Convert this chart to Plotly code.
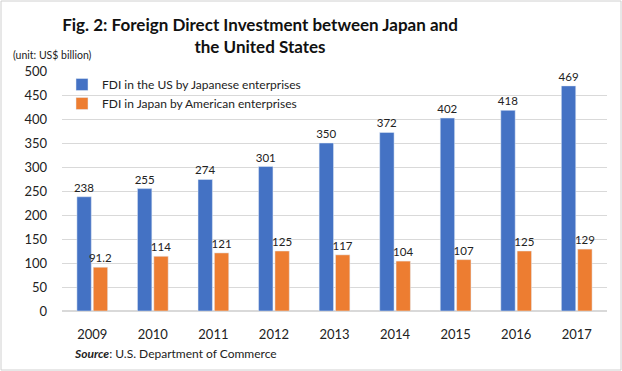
import plotly.graph_objects as go

years = ["2009", "2010", "2011", "2012", "2013", "2014", "2015", "2016", "2017"]
jp_in_us = [238, 255, 274, 301, 350, 372, 402, 418, 469]
us_in_jp = [91.2, 114, 121, 125, 117, 104, 107, 125, 129]
jp_labels = ["238", "255", "274", "301", "350", "372", "402", "418", "469"]
us_labels = ["91.2", "114", "121", "125", "117", "104", "107", "125", "129"]

FONT = "Lato, Open Sans, sans-serif"
PW, PH = 545, 240  # plot area in px

fig = go.Figure()
fig.add_trace(go.Bar(x=years, y=jp_in_us, name="FDI in the US by Japanese enterprises",
                     marker_color="#4472C4", text=jp_labels, textposition="outside",
                     constraintext="none",
                     textfont=dict(size=11.5, color="#222"), cliponaxis=False))
fig.add_trace(go.Bar(x=years, y=us_in_jp, name="FDI in Japan by American enterprises",
                     marker_color="#ED7D31", text=us_labels, textposition="outside",
                     constraintext="none",
                     textfont=dict(size=11.5, color="#222"), cliponaxis=False))

fig.update_layout(
    width=622, height=371,
    margin=dict(l=62, r=15, t=71, b=60, autoexpand=False),
    paper_bgcolor="white", plot_bgcolor="white",
    font=dict(family=FONT, color="#222"),
    barmode="group", bargap=0.46, bargroupgap=0.12,
    title=dict(text="<b>Fig. 2: Foreign Direct Investment between Japan and<br>the United States</b>",
               x=260/622, xanchor="center", y=1-31/371, yanchor="top",
               font=dict(size=17, family=FONT, color="#111")),
    legend=dict(x=0/PW, y=1+1/PH, xanchor="left", yanchor="top", bgcolor="rgba(0,0,0,0)",
                font=dict(size=12), itemwidth=30, tracegroupgap=0),
    xaxis=dict(showline=False, ticks="", tickfont=dict(size=13), automargin=False,
               ticklabelstandoff=14),
    yaxis=dict(range=[0, 500], dtick=50, showgrid=True, gridcolor="#D9D9D9",
               zeroline=True, zerolinecolor="#D9D9D9", tickfont=dict(size=13), ticks="",
               automargin=False, ticklabelstandoff=14),
    shapes=[dict(type="rect", xref="paper", yref="paper", x0=-61/PW, x1=1+14/PW,
                 y0=-59/PH, y1=1+70/PH, line=dict(color="#D0D0D0", width=1))],
    annotations=[
        dict(text="(unit: US$ billion)", xref="paper", yref="paper", x=-51/PW, y=1+16/PH,
             xanchor="left", yanchor="middle", showarrow=False, font=dict(size=10.5)),
        dict(text="<b><i>Source</i></b>: U.S. Department of Commerce", xref="paper", yref="paper",
             x=10/PW, y=-42/PH, xanchor="left", yanchor="middle", showarrow=False,
             font=dict(size=12)),
    ],
)
fig.write_html("out.html", config={"displayModeBar": False},
               post_script="document.body.style.margin='0px';")
